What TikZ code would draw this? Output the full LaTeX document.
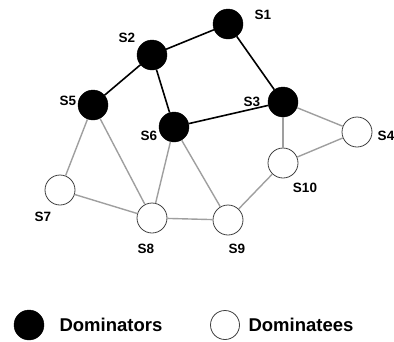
\documentclass[tikz,border=0pt]{standalone}
\usepackage{fontspec}
\setmainfont{Liberation Sans}
\usepackage{tikz}

\begin{document}
\begin{tikzpicture}[x=1pt,y=-1pt,
    dom/.style={circle,fill=black,draw=black,minimum size=30pt,inner sep=0pt},
    dee/.style={circle,fill=white,draw=black!75,line width=0.8pt,minimum size=30pt,inner sep=0pt},
    lbl/.style={font=\bfseries\fontsize{13.5}{14}\selectfont},
    strong/.style={line width=1.6pt,black},
    weak/.style={line width=1.4pt,gray!75}]
    \useasboundingbox (0,0) rectangle (394,341);
    % nodes
    \node[dom] (s1) at (228,24) {};
    \node[dom] (s2) at (152,55) {};
    \node[dom] (s5) at (93,105) {};
    \node[dom] (s6) at (174,127) {};
    \node[dom] (s3) at (283,102) {};
    \node[dee] (s4) at (357,132) {};
    \node[dee] (s10) at (283,163) {};
    \node[dee] (s7) at (60,190) {};
    \node[dee] (s8) at (152,218) {};
    \node[dee] (s9) at (228,220) {};
    % links
    \draw[weak] (s5) -- (s7);
    \draw[weak] (s5) -- (s8);
    \draw[weak] (s6) -- (s8);
    \draw[weak] (s6) -- (s9);
    \draw[weak] (s3) -- (s10);
    \draw[weak] (s3) -- (s4);
    \draw[weak] (s10) -- (s4);
    \draw[weak] (s10) -- (s9);
    \draw[weak] (s7) -- (s8);
    \draw[weak] (s8) -- (s9);
    \draw[strong] (s1) -- (s2);
    \draw[strong] (s2) -- (s5);
    \draw[strong] (s2) -- (s6);
    \draw[strong] (s1) -- (s3);
    \draw[strong] (s6) -- (s3);
    % labels
    \node[lbl] (l1) at (263,15) {S1};
    \node[lbl] (l2) at (127,38) {S2};
    \node[lbl] (l5) at (68,101) {S5};
    \node[lbl] (l6) at (149,136) {S6};
    \node[lbl] (l3) at (252,102) {S3};
    \node[lbl] (l4) at (386,136) {S4};
    \node[lbl] (l10) at (305,188) {S10};
    \node[lbl] (l7) at (43,217) {S7};
    \node[lbl] (l8) at (146,249) {S8};
    \node[lbl] (l9) at (237,249) {S9};
    % legend
    \node[dom] (kdom) at (29,325) {};
    \node[font=\bfseries\fontsize{18.5}{20}\selectfont,anchor=west] (tdom) at (56,325) {Dominators};
    \node[dee,minimum size=29pt] (kdee) at (225,325) {};
    \node[font=\bfseries\fontsize{18.5}{20}\selectfont,anchor=west] (tdee) at (245,325) {Dominatees};
\end{tikzpicture}
\end{document}
